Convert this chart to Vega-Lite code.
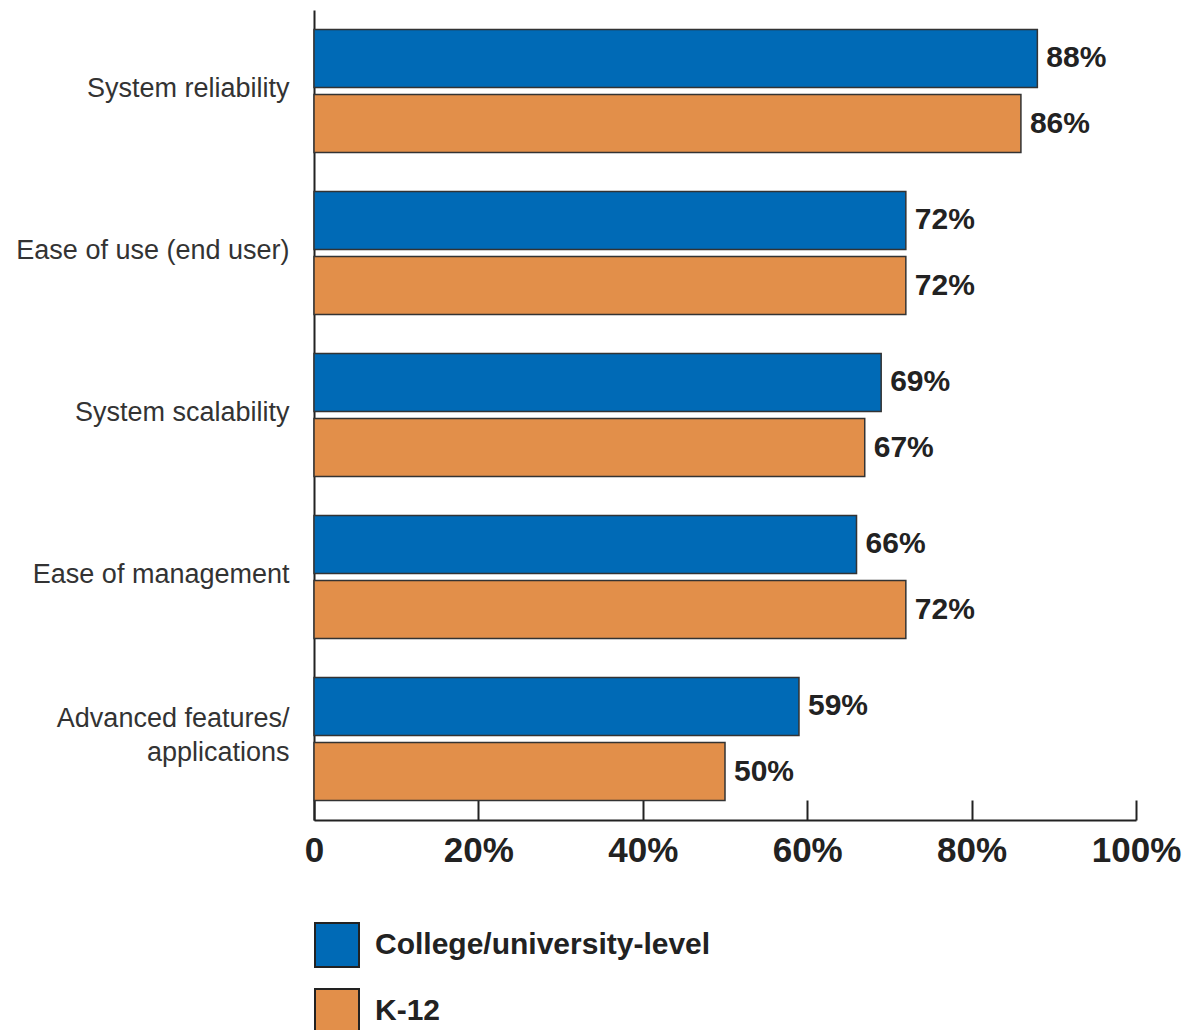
{
  "$schema": "https://vega.github.io/schema/vega-lite/v6.json",
  "width": 822,
  "height": 810,
  "autosize": {"type": "none"},
  "padding": {"left": 314, "top": 10, "right": 63, "bottom": 210},
  "background": "white",
  "config": {
    "view": {"stroke": null},
    "font": "Liberation Sans"
  },
  "data": {
    "values": [
      {"factor": "System reliability", "segment": "College/university-level", "value": 88},
      {"factor": "System reliability", "segment": "K-12", "value": 86},
      {"factor": "Ease of use (end user)", "segment": "College/university-level", "value": 72},
      {"factor": "Ease of use (end user)", "segment": "K-12", "value": 72},
      {"factor": "System scalability", "segment": "College/university-level", "value": 69},
      {"factor": "System scalability", "segment": "K-12", "value": 67},
      {"factor": "Ease of management", "segment": "College/university-level", "value": 66},
      {"factor": "Ease of management", "segment": "K-12", "value": 72},
      {"factor": "Advanced features/ applications", "segment": "College/university-level", "value": 59},
      {"factor": "Advanced features/ applications", "segment": "K-12", "value": 50}
    ]
  },
  "transform": [{"calculate": "datum.value + '%'", "as": "label"}],
  "encoding": {
    "y": {
      "field": "factor",
      "type": "nominal",
      "sort": null,
      "scale": {"paddingInner": 0.24, "paddingOuter": 0.12},
      "axis": {
        "title": null,
        "ticks": false,
        "domainColor": "#222",
        "domainWidth": 2,
        "labelFontSize": 27,
        "labelColor": "#333",
        "labelPadding": 25,
        "labelLimit": 400,
        "labelLineHeight": 34,
        "labelOffset": {"condition": {"test": "datum.value == 'Advanced features/ applications'", "value": -20}, "value": -2},
        "labelExpr": "datum.label == 'Advanced features/ applications' ? ['Advanced features/', 'applications'] : datum.label"
      }
    },
    "yOffset": {
      "field": "segment",
      "type": "nominal",
      "scale": {"paddingInner": 0.108, "paddingOuter": 0}
    },
    "x": {
      "field": "value",
      "type": "quantitative",
      "scale": {"domain": [0, 100], "nice": false},
      "axis": {
        "title": null,
        "values": [0, 20, 40, 60, 80, 100],
        "grid": false,
        "domainColor": "#222",
        "domainWidth": 2,
        "tickColor": "#222",
        "tickWidth": 2,
        "tickSize": -20,
        "labelFontSize": 35,
        "labelFontWeight": "bold",
        "labelColor": "#222",
        "labelPadding": 33,
        "labelFlush": false,
        "labelExpr": "datum.value == 0 ? '0' : datum.value + '%'"
      }
    }
  },
  "layer": [
    {
      "mark": {"type": "bar", "stroke": "#333", "strokeWidth": 1.5},
      "encoding": {
        "color": {
          "field": "segment",
          "type": "nominal",
          "scale": {"domain": ["College/university-level", "K-12"], "range": ["#006AB6", "#E28F4A"]},
          "legend": {
            "title": null,
            "orient": "none",
            "legendX": 0,
            "legendY": 912,
            "padding": 0,
            "symbolType": "square",
            "symbolSize": 1936,
            "symbolStrokeColor": "#222",
            "symbolStrokeWidth": 2,
            "symbolOpacity": 1,
            "labelFontSize": 30,
            "labelFontWeight": "bold",
            "labelColor": "#222",
            "labelOffset": 15,
            "rowPadding": 14,
            "labelLimit": 600
          }
        }
      }
    },
    {
      "mark": {"type": "text", "align": "left", "baseline": "middle", "dx": 9, "fontSize": 30, "fontWeight": "bold", "color": "#222"},
      "encoding": {"text": {"field": "label"}}
    }
  ]
}
